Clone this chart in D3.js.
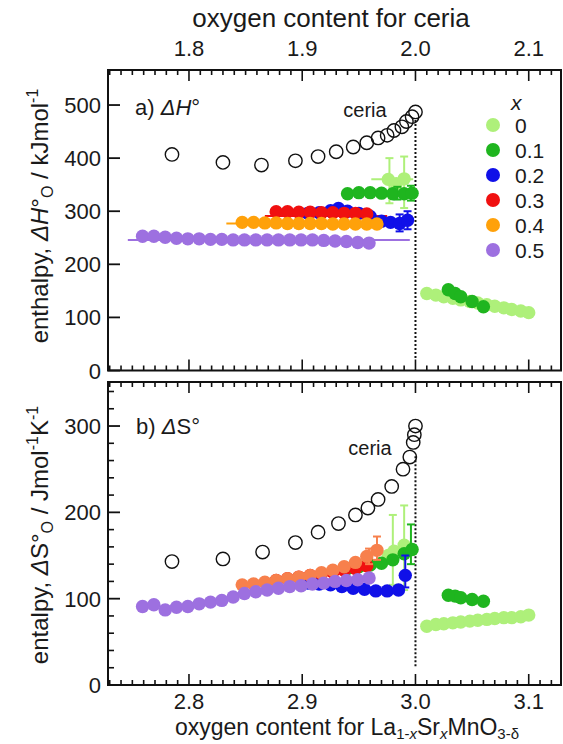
<!DOCTYPE html>
<html><head><meta charset="utf-8">
<script src="https://cdn.jsdelivr.net/npm/d3@7"></script>
<style>
body{margin:0;background:#fff}
svg{display:block}
text{font-family:"Liberation Sans",Arial,Helvetica,sans-serif;fill:#1a1a1a}
</style>
</head><body>
<svg id="chart" width="563" height="744"></svg>
<script>
// ---------------- data ----------------
const xTicksBottom = [2.8, 2.9, 3.0, 3.1];
const xTicksTop = [1.8, 1.9, 2.0, 2.1];
const yTicksH = [0, 100, 200, 300, 400, 500];
const yTicksS = [0, 100, 200, 300];
const legendLabels = ["0", "0.1", "0.2", "0.3", "0.4", "0.5"];

// ceria (x in ceria oxygen content, top axis)
const ceriaH = [[1.785,407],[1.830,392],[1.864,387],[1.894,395],[1.914,403],[1.930,412],[1.945,421],[1.957,429],[1.967,438],[1.975,443],[1.981,452],[1.988,459],[1.992,469],[1.997,478],[2.000,487]];
const ceriaS = [[1.785,143],[1.830,146],[1.865,154],[1.894,165],[1.914,177],[1.932,187],[1.947,197],[1.958,205],[1.967,215],[1.979,230],[1.989,250],[1.995,264],[1.998,281],[1.999,290],[2.000,300]];

// La1-xSrxMnO3-d, enthalpy (kJ/mol)
const h0  = [[2.976,360],[2.983,352],[2.990,361],[3.010,145],[3.018,142],[3.025,139],[3.033,136],[3.040,133],[3.048,130],[3.055,127],[3.063,124],[3.070,121],[3.078,118],[3.085,115],[3.093,112],[3.100,109]];
const h01 = [[2.940,333],[2.950,335],[2.960,335],[2.970,334],[2.980,333],[2.990,333],[2.997,334],[3.029,152],[3.035,145],[3.040,139],[3.050,130],[3.060,120]];
const h02 = [[2.905,296],[2.915,297],[2.925,301],[2.932,305],[2.940,300],[2.950,296],[2.960,290],[2.970,281],[2.978,279],[2.986,277],[2.993,283]];
const h03 = [[2.877,299],[2.887,299],[2.897,298],[2.907,298],[2.917,297],[2.927,297],[2.937,296],[2.947,296],[2.957,295]];
const h04 = [[2.847,279],[2.857,279],[2.867,278],[2.877,278],[2.887,277],[2.897,277],[2.907,277],[2.917,277],[2.927,276],[2.937,276],[2.947,276],[2.957,276],[2.966,276]];
const h05 = [[2.759,253],[2.769,253],[2.779,251],[2.789,249],[2.799,248],[2.809,248],[2.819,247],[2.829,247],[2.839,246],[2.849,246],[2.859,246],[2.869,246],[2.879,246],[2.889,246],[2.899,246],[2.909,246],[2.919,245],[2.929,244],[2.939,243],[2.949,241],[2.959,240]];

// entropy (J/mol/K)
const s0  = [[2.976,150],[2.981,155],[2.990,162],[3.010,68],[3.018,70],[3.025,71],[3.033,72],[3.040,73],[3.048,74],[3.055,75],[3.063,76],[3.070,77],[3.078,78],[3.085,78],[3.093,79],[3.100,81]];
const s01 = [[2.940,135],[2.950,137],[2.960,139],[2.970,141],[2.980,145],[2.990,152],[2.997,157],[3.029,104],[3.035,103],[3.040,101],[3.050,99],[3.060,97]];
const s02 = [[2.905,118],[2.915,117],[2.925,116],[2.935,114],[2.945,112],[2.955,111],[2.965,109],[2.975,109],[2.985,110],[2.991,127]];
const s03 = [[2.877,121],[2.887,123],[2.897,125],[2.907,127],[2.917,129],[2.927,131],[2.937,133],[2.947,135],[2.957,138]];
const s04 = [[2.847,116],[2.857,117],[2.867,119],[2.877,121],[2.887,123],[2.897,125],[2.907,127],[2.917,130],[2.927,133],[2.937,137],[2.947,142],[2.957,149],[2.966,156]];
const s05 = [[2.759,91],[2.769,93],[2.779,87],[2.789,90],[2.799,91],[2.809,94],[2.819,96],[2.829,98],[2.839,102],[2.849,106],[2.859,108],[2.869,110],[2.879,112],[2.889,114],[2.899,115],[2.909,117],[2.919,118],[2.929,120],[2.939,121],[2.949,122],[2.959,124]];

// vertical error bars [x, low, high]
const hErr0  = [[2.977,315,400],[2.990,306,403]];
const hErr01 = [[2.984,322,346],[2.996,320,348]];
const hErr02 = [[2.986,262,294],[2.993,266,300]];
const sErr0  = [[2.980,116,197],[2.990,110,208]];
const sErr01 = [[2.996,140,186]];
const sErr02 = [[2.991,113,150]];
const sErr04 = [[2.959,140,158],[2.966,145,172]];
// horizontal bars [xmin, xmax, y]
const hBar0  = [2.961, 2.998, 360];
const hBar01 = [2.939, 2.999, 333];
const hBar03 = [2.867, 2.975, 291];
const hBar04 = [2.833, 2.968, 277];
const hBar05 = [2.746, 2.995, 246];

// ---------------- styles ----------------
const colH = ["#aef07a","#1fb51f","#1010e8","#f01010","#ffa10a","#9d70e0"];
const colS = ["#aef07a","#1fb51f","#1010e8","#f01010","#f7804c","#9d70e0"];

const svg = d3.select("#chart");
const X0 = 108, X1 = 561;
const x = d3.scaleLinear().domain([2.7285, 3.1285]).range([X0, X1]);
const xc = d3.scaleLinear().domain([1.7285, 2.1285]).range([X0, X1]);
const yH = d3.scaleLinear().domain([0, 566]).range([370.5, 70]);
const yS = d3.scaleLinear().domain([0, 351]).range([685, 382]);
const R = 6.7;
const TICKFS = 22;

function frame(top, bottom) {
  svg.append("rect").attr("x", X0).attr("y", top).attr("width", X1 - X0).attr("height", bottom - top)
    .attr("fill", "none").attr("stroke", "#111").attr("stroke-width", 2);
}

function xTicks(top, bottom) {
  const minor = d3.range(273, 313).map(v => v / 100);
  minor.forEach(v => {
    const isMajor = Math.abs(v * 10 - Math.round(v * 10)) < 1e-6;
    const L = isMajor ? 11 : 5;
    const px = x(v);
    if (px < X0 + 1 || px > X1 - 1) return;
    svg.append("line").attr("x1", px).attr("x2", px).attr("y1", top).attr("y2", top + L).attr("stroke", "#111").attr("stroke-width", 1.6);
    svg.append("line").attr("x1", px).attr("x2", px).attr("y1", bottom).attr("y2", bottom - L).attr("stroke", "#111").attr("stroke-width", 1.6);
  });
}

function yTicks(y, ticks, minorStep, maxV) {
  ticks.forEach(v => {
    svg.append("line").attr("x1", X0).attr("x2", X0 + 12).attr("y1", y(v)).attr("y2", y(v)).attr("stroke", "#111").attr("stroke-width", 1.8);
    svg.append("text").attr("x", 101).attr("y", y(v) + 8).attr("text-anchor", "end").attr("font-size", TICKFS).text(v);
  });
  if (minorStep) {
    d3.range(0, maxV, minorStep).forEach(v => {
      if (v % 100 === 0) return;
      svg.append("line").attr("x1", X0).attr("x2", X0 + 6).attr("y1", y(v)).attr("y2", y(v)).attr("stroke", "#111").attr("stroke-width", 1.6);
    });
  }
}

function hbar(y, b, c) {
  svg.append("line").attr("x1", x(b[0])).attr("x2", x(b[1])).attr("y1", y(b[2])).attr("y2", y(b[2]))
    .attr("stroke", c).attr("stroke-width", 2);
}
function verr(y, arr, c) {
  arr.forEach(e => {
    const px = x(e[0]);
    svg.append("line").attr("x1", px).attr("x2", px).attr("y1", y(e[1])).attr("y2", y(e[2])).attr("stroke", c).attr("stroke-width", 2);
    [e[1], e[2]].forEach(v => svg.append("line").attr("x1", px - 4).attr("x2", px + 4).attr("y1", y(v)).attr("y2", y(v)).attr("stroke", c).attr("stroke-width", 2));
  });
}
function dots(y, arr, c) {
  svg.append("g").selectAll("circle").data(arr).join("circle")
    .attr("cx", d => x(d[0])).attr("cy", d => y(d[1])).attr("r", R).attr("fill", c);
}
function ceria(y, arr) {
  svg.append("g").selectAll("circle").data(arr).join("circle")
    .attr("cx", d => xc(d[0])).attr("cy", d => y(d[1])).attr("r", R).attr("fill", "none")
    .attr("stroke", "#111").attr("stroke-width", 1.4);
}

// ---------- panel a ----------
yTicks(yH, yTicksH, 0, 0);
svg.append("line").attr("x1", x(3.0)).attr("x2", x(3.0)).attr("y1", yH(472)).attr("y2", yH(20))
  .attr("stroke", "#111").attr("stroke-width", 2).attr("stroke-dasharray", "2,2");
ceria(yH, ceriaH);
hbar(yH, hBar05, colH[5]);
hbar(yH, hBar04, colH[4]);
hbar(yH, hBar03, colH[3]);
hbar(yH, hBar01, colH[1]);
hbar(yH, hBar0, colH[0]);
verr(yH, hErr0, colH[0]);
dots(yH, h0, colH[0]);
verr(yH, hErr01, colH[1]);
dots(yH, h01, colH[1]);
verr(yH, hErr02, colH[2]);
dots(yH, h02, colH[2]);
dots(yH, h03, colH[3]);
dots(yH, h04, colH[4]);
dots(yH, h05, colH[5]);

// ---------- panel b ----------
yTicks(yS, yTicksS, 20, 351);
svg.append("line").attr("x1", x(3.0)).attr("x2", x(3.0)).attr("y1", yS(265)).attr("y2", yS(20))
  .attr("stroke", "#111").attr("stroke-width", 2).attr("stroke-dasharray", "2,2");
ceria(yS, ceriaS);
verr(yS, sErr0, colS[0]);
dots(yS, s0, colS[0]);
verr(yS, sErr01, colS[1]);
dots(yS, s01, colS[1]);
verr(yS, sErr02, colS[2]);
dots(yS, s02, colS[2]);
dots(yS, s03, colS[3]);
verr(yS, sErr04, colS[4]);
dots(yS, s04, colS[4]);
dots(yS, s05, colS[5]);

// frames & x ticks
frame(70, 370.5);
frame(382, 685);
xTicks(70, 370.5);
xTicks(382, 685);

// top axis labels
xTicksTop.forEach(v => svg.append("text").attr("x", xc(v)).attr("y", 56).attr("text-anchor", "middle").attr("font-size", TICKFS).text(d3.format(".1f")(v)));
svg.append("text").attr("x", 331).attr("y", 27).attr("text-anchor", "middle").attr("font-size", 26).text("oxygen content for ceria");
// bottom axis labels
xTicksBottom.forEach(v => svg.append("text").attr("x", x(v)).attr("y", 709).attr("text-anchor", "middle").attr("font-size", TICKFS).text(d3.format(".1f")(v)));
const bt = svg.append("text").attr("x", 347).attr("y", 735).attr("text-anchor", "middle").attr("font-size", 23);
bt.append("tspan").text("oxygen content for La");
bt.append("tspan").attr("font-size", 15).attr("dy", 4).text("1-");
bt.append("tspan").attr("font-size", 15).attr("font-style", "italic").text("x");
bt.append("tspan").attr("dy", -4).text("Sr");
bt.append("tspan").attr("font-size", 15).attr("font-style", "italic").attr("dy", 4).text("x");
bt.append("tspan").attr("dy", -4).text("MnO");
bt.append("tspan").attr("font-size", 15).attr("dy", 4).text("3-δ");

// y titles
const t1 = svg.append("text").attr("transform", "translate(48,216) rotate(-90)").attr("text-anchor", "middle").attr("font-size", 24);
t1.append("tspan").text("enthalpy, ");
t1.append("tspan").attr("font-style", "italic").text("ΔH");
t1.append("tspan").text("°");
t1.append("tspan").attr("font-size", 16).attr("dy", 5).text("O");
t1.append("tspan").attr("dy", -5).text(" / kJmol");
t1.append("tspan").attr("font-size", 16).attr("dy", -10).text("-1");

const t2 = svg.append("text").attr("transform", "translate(48,535) rotate(-90)").attr("text-anchor", "middle").attr("font-size", 24);
t2.append("tspan").text("entalpy, ");
t2.append("tspan").attr("font-style", "italic").text("Δ");
t2.append("tspan").text("S°");
t2.append("tspan").attr("font-size", 16).attr("dy", 5).text("O");
t2.append("tspan").attr("dy", -5).text(" / Jmol");
t2.append("tspan").attr("font-size", 16).attr("dy", -10).text("-1");
t2.append("tspan").attr("dy", 10).text("K");
t2.append("tspan").attr("font-size", 16).attr("dy", -10).text("-1");

// panel labels
const pa = svg.append("text").attr("x", 135).attr("y", 115).attr("font-size", 22);
pa.append("tspan").text("a) ");
pa.append("tspan").attr("font-style", "italic").text("ΔH");
pa.append("tspan").text("°");
const pb = svg.append("text").attr("x", 136).attr("y", 434).attr("font-size", 22);
pb.append("tspan").text("b) ");
pb.append("tspan").attr("font-style", "italic").text("Δ");
pb.append("tspan").text("S°");
svg.append("text").attr("x", 365).attr("y", 117).attr("text-anchor", "middle").attr("font-size", 20).text("ceria");
svg.append("text").attr("x", 370).attr("y", 455).attr("text-anchor", "middle").attr("font-size", 20).text("ceria");

// legend
svg.append("text").attr("x", 511).attr("y", 110).attr("font-size", 21).attr("font-style", "italic").text("x");
legendLabels.forEach((l, i) => {
  const cy = 125 + i * 25;
  svg.append("circle").attr("cx", 493).attr("cy", cy).attr("r", 7).attr("fill", colH[i]);
  svg.append("text").attr("x", 515).attr("y", cy + 7.5).attr("font-size", 21).text(l);
});
</script>
</body></html>
